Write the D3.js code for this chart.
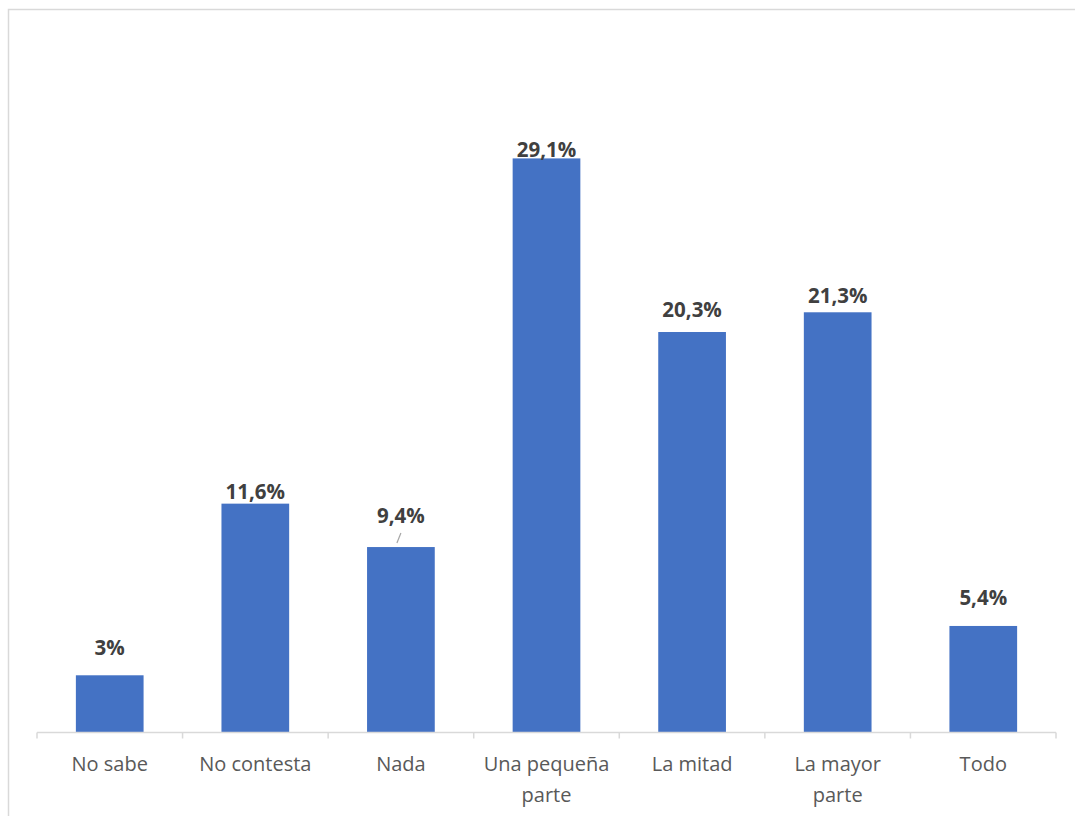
<!DOCTYPE html>
<html><head><meta charset="utf-8">
<script src="https://cdn.jsdelivr.net/npm/d3@7"></script>
<style>body{margin:0;background:#fff}svg{display:block}</style>
</head><body><svg id="c" width="1075" height="816"></svg>
<script>
const categories = [["No sabe"],["No contesta"],["Nada"],["Una pequeña","parte"],["La mitad"],["La mayor","parte"],["Todo"]];
const values = [2.9, 11.6, 9.4, 29.1, 20.3, 21.3, 5.4];
const valueLabels = ["3%","11,6%","9,4%","29,1%","20,3%","21,3%","5,4%"];
// layout: label baseline distance above bar top (manual label placement as in original)
const labelLift = [20, 5, 24, 1, 15, 9, 21];

const svg = d3.select("#c");
svg.append("rect").attr("x",8.5).attr("y",9.5).attr("width",1070).attr("height",820)
  .attr("fill","#fff").attr("stroke","#d9d9d9").attr("stroke-width",1.5);

const x = d3.scaleBand().domain(d3.range(values.length)).range([37,1056]).paddingInner(0.535).paddingOuter(0.267);
const y = d3.scaleLinear().domain([0,35]).range([732.5,42]);

svg.selectAll("rect.bar").data(values).join("rect").attr("class","bar")
  .attr("x",(d,i)=>x(i)).attr("width",x.bandwidth())
  .attr("y",d=>y(d)).attr("height",d=>y(0)-y(d)).attr("fill","#4472c4");

// axis
const band = (1056-37)/values.length;
const g = svg.append("g");
g.append("line").attr("x1",37).attr("x2",1056).attr("y1",y(0)).attr("y2",y(0)).attr("stroke","#d9d9d9").attr("stroke-width",1.5);
g.selectAll("line.t").data(d3.range(values.length+1)).join("line").attr("class","t")
  .attr("x1",i=>37+i*band).attr("x2",i=>37+i*band).attr("y1",y(0)).attr("y2",y(0)+6)
  .attr("stroke","#d9d9d9").attr("stroke-width",1.5);

const cx = i => x(i)+x.bandwidth()/2;
const font = "'Open Sans', sans-serif";
svg.selectAll("text.cat").data(categories).join("text").attr("class","cat")
  .attr("x",(d,i)=>cx(i)).attr("y",771).attr("text-anchor","middle")
  .attr("font-family",font).attr("font-size",20).attr("fill","#595959")
  .each(function(d){ const t=d3.select(this); d.forEach((s,k)=>t.append("tspan").attr("x",t.attr("x")).attr("dy",k?31:0).text(s)); });

svg.selectAll("text.val").data(values).join("text").attr("class","val")
  .attr("x",(d,i)=>cx(i)).attr("y",(d,i)=>y(d)-labelLift[i]).attr("text-anchor","middle")
  .attr("font-family",font).attr("font-size",20.5).attr("font-weight","bold").attr("fill","#404040")
  .text((d,i)=>valueLabels[i]);

// leader line for "Nada"
const ni = 2;
svg.append("line").attr("x1",cx(ni)-4).attr("y1",y(values[ni])-4).attr("x2",cx(ni)).attr("y2",y(values[ni])-14)
  .attr("stroke","#a6a6a6").attr("stroke-width",1.2);
</script></body></html>
